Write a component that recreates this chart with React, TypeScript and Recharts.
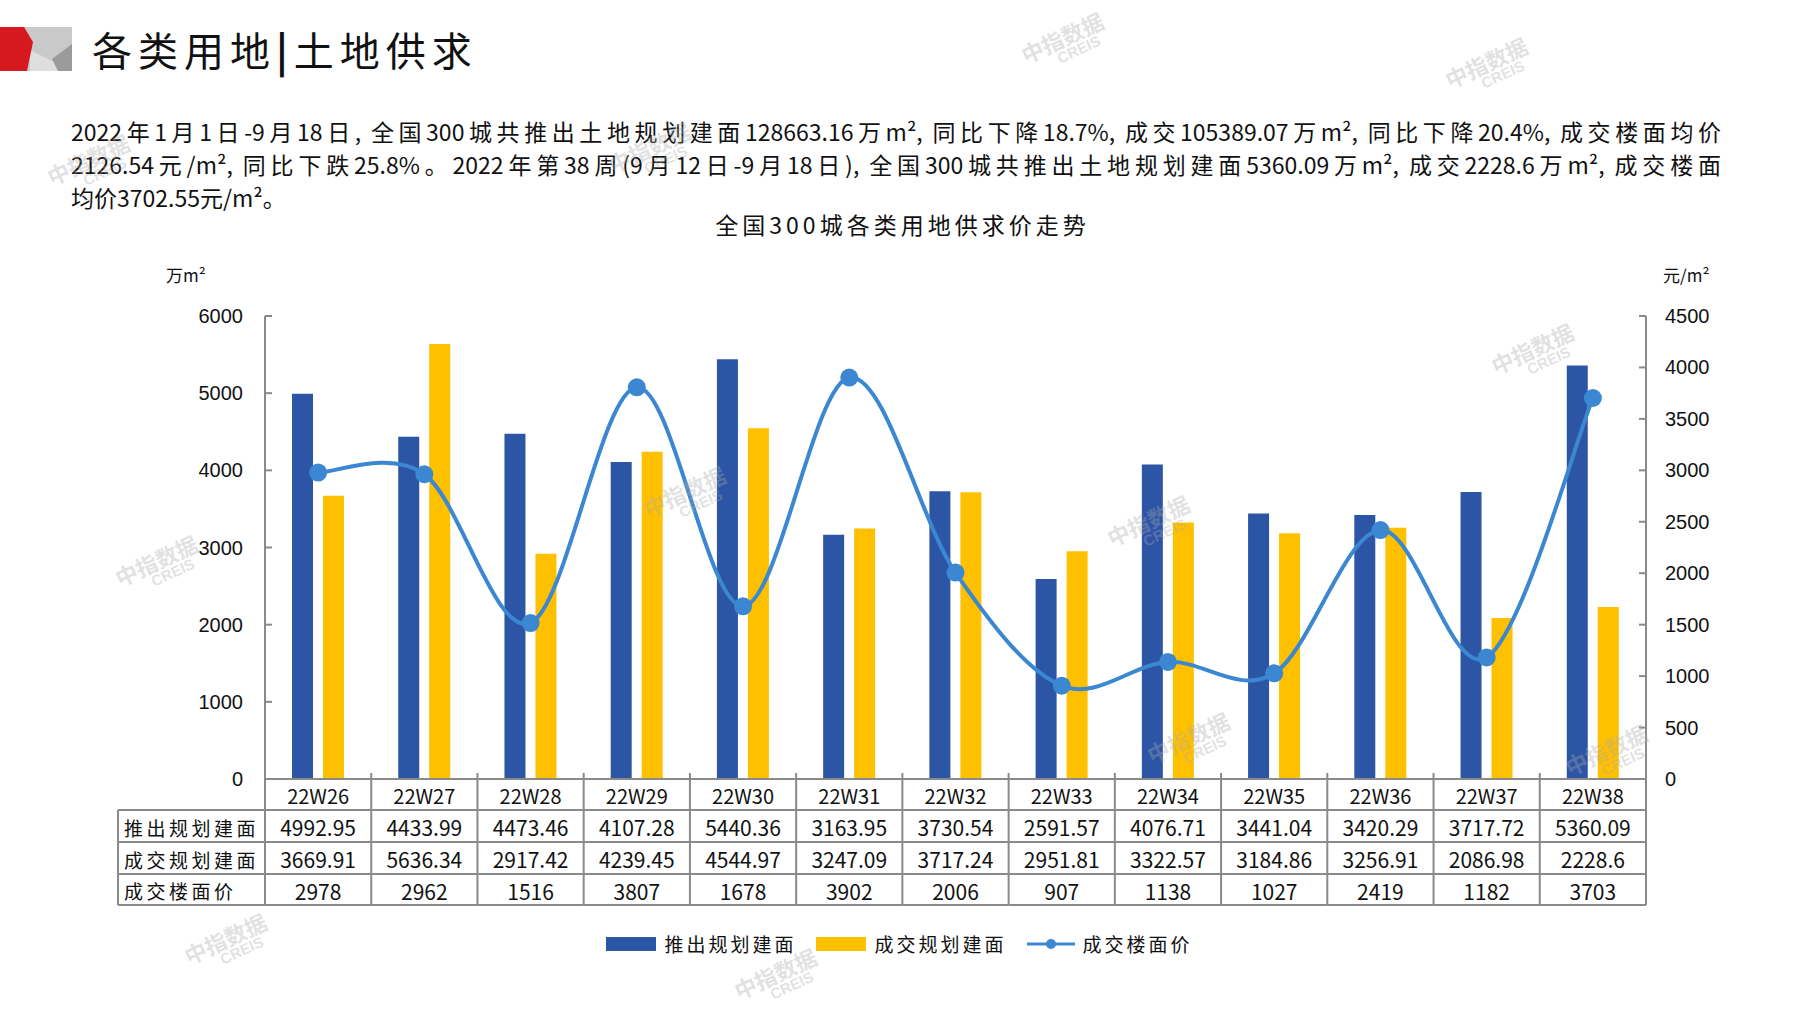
import React from 'react';
import { ComposedChart, Bar, Line, XAxis, YAxis } from 'recharts';

const weeks = ['22W26', '22W27', '22W28', '22W29', '22W30', '22W31', '22W32', '22W33', '22W34', '22W35', '22W36', '22W37', '22W38'];
const launched = [4992.95, 4433.99, 4473.46, 4107.28, 5440.36, 3163.95, 3730.54, 2591.57, 4076.71, 3441.04, 3420.29, 3717.72, 5360.09];
const traded = [3669.91, 5636.34, 2917.42, 4239.45, 4544.97, 3247.09, 3717.24, 2951.81, 3322.57, 3184.86, 3256.91, 2086.98, 2228.6];
const price = [2978, 2962, 1516, 3807, 1678, 3902, 2006, 907, 1138, 1027, 2419, 1182, 3703];
const leftTicks = [0, 1000, 2000, 3000, 4000, 5000, 6000];
const rightTicks = [0, 500, 1000, 1500, 2000, 2500, 3000, 3500, 4000, 4500];
const rowLabels = ['推出规划建面', '成交规划建面', '成交楼面价'];

const data = weeks.map((w, i) => ({ week: w, launched: launched[i], traded: traded[i], price: price[i] }));

const BLUE = '#2d55a6';
const YELLOW = '#ffc000';
const LINE = '#3b87d1';
const GRID = '#8a8a8a';
const CJK = "'Noto Sans CJK SC', sans-serif";
const NUM = "'Liberation Sans Narrow', 'Noto Sans CJK SC', sans-serif";

const W = 1797;
const H = 1010;
const PLOT_L = 265;
const PLOT_R = 1646;
const PLOT_T = 316;
const PLOT_B = 779;
const TABLE_L = 118;
const ROWS = [779, 810, 842, 874, 905];
const AXIS_W = 60;

// Excel-style smoothed line (Catmull-Rom through every point)
const smooth = (ctx: any) => {
  let pts: number[][] = [];
  return {
    areaStart() {},
    areaEnd() {},
    lineStart() {
      pts = [];
    },
    point(x: number, y: number) {
      pts.push([+x, +y]);
    },
    lineEnd() {
      if (!pts.length) return;
      ctx.moveTo(pts[0][0], pts[0][1]);
      for (let i = 0; i < pts.length - 1; i++) {
        const p0 = pts[i - 1] || pts[i];
        const p1 = pts[i];
        const p2 = pts[i + 1];
        const p3 = pts[i + 2] || p2;
        ctx.bezierCurveTo(
          p1[0] + (p2[0] - p0[0]) / 6,
          p1[1] + (p2[1] - p0[1]) / 6,
          p2[0] - (p3[0] - p1[0]) / 6,
          p2[1] - (p3[1] - p1[1]) / 6,
          p2[0],
          p2[1],
        );
      }
    },
  };
};

const LeftTick = ({ x, y, payload }: any) => (
  <g>
    <line x1={x} x2={x + 7} y1={y} y2={y} stroke={GRID} strokeWidth={2} />
    <text x={x - 22} y={y} textAnchor="end" dominantBaseline="central" fontSize={20} fontFamily="'Liberation Sans', Arial" fill="#111">
      {payload.value}
    </text>
  </g>
);

const RightTick = ({ x, y, payload }: any) => (
  <g>
    <line x1={x - 7} x2={x} y1={y} y2={y} stroke={GRID} strokeWidth={2} />
    <text x={x + 19} y={y} textAnchor="start" dominantBaseline="central" fontSize={20} fontFamily="'Liberation Sans', Arial" fill="#111">
      {payload.value}
    </text>
  </g>
);

const TableTick = ({ x, payload }: any) => {
  const i = payload.index;
  const bw = (PLOT_R - PLOT_L) / weeks.length;
  const l = x - bw / 2;
  const r = x + bw / 2;
  const values = [String(launched[i]), String(traded[i]), String(price[i])];
  return (
    <g>
      <line x1={r} x2={r} y1={PLOT_B - 6} y2={ROWS[4]} stroke={GRID} strokeWidth={2} />
      {ROWS.slice(1).map((ry) => (
        <line key={ry} x1={l} x2={r} y1={ry} y2={ry} stroke={GRID} strokeWidth={2} />
      ))}
      <text x={x} y={(ROWS[0] + ROWS[1]) / 2 + 1} textAnchor="middle" dominantBaseline="central" fontSize={20} fontFamily={NUM} fill="#111">
        {payload.value}
      </text>
      {values.map((v, k) => (
        <text key={k} x={x} y={(ROWS[k + 1] + ROWS[k + 2]) / 2 + 1} textAnchor="middle" dominantBaseline="central" fontSize={21} fontFamily={NUM} fill="#111">
          {v}
        </text>
      ))}
      {i === 0 && (
        <g>
          <line x1={l} x2={l} y1={ROWS[0]} y2={ROWS[4]} stroke={GRID} strokeWidth={2} />
          <line x1={TABLE_L} x2={TABLE_L} y1={ROWS[1]} y2={ROWS[4]} stroke={GRID} strokeWidth={2} />
          {ROWS.slice(1).map((ry) => (
            <line key={ry} x1={TABLE_L} x2={l} y1={ry} y2={ry} stroke={GRID} strokeWidth={2} />
          ))}
          {rowLabels.map((t, k) => (
            <text key={t} x={TABLE_L + 6} y={(ROWS[k + 1] + ROWS[k + 2]) / 2 + 1} textAnchor="start" dominantBaseline="central" fontSize={19} fontFamily={CJK} fill="#111" letterSpacing={3.5}>
              {t}
            </text>
          ))}
        </g>
      )}
    </g>
  );
};

const watermarks = [
  [1066, 50], [1490, 75], [92, 172], [160, 573], [688, 504], [1152, 533],
  [1192, 750], [1536, 361], [1610, 762], [229, 951], [779, 986], [653, 160],
];

function Logo() {
  return (
    <svg width={72} height={46} style={{ position: 'absolute', left: 0, top: 26 }}>
      <polygon points="0,1 72,1 72,45 0,45" fill="#c9c9c9" />
      <polygon points="30,24 72,45 30,45" fill="#dedede" />
      <polygon points="52,33 72,18 72,45 58,45" fill="#9b9b9b" />
      <polygon points="0,1 24,1 33,16 27,45 0,45" fill="#d7181f" />
    </svg>
  );
}

function LegendBar() {
  const item = (swatch: React.ReactNode, label: string) => (
    <div style={{ display: 'flex', alignItems: 'center', marginRight: 20 }}>
      {swatch}
      <span style={{ marginLeft: 8, fontSize: 19, fontFamily: CJK, letterSpacing: 3, color: '#111' }}>{label}</span>
    </div>
  );
  return (
    <div style={{ position: 'absolute', left: 0, width: W, top: 930, display: 'flex', justifyContent: 'center', paddingLeft: 22, boxSizing: 'border-box' }}>
      {item(<div style={{ width: 50, height: 14, background: BLUE }} />, '推出规划建面')}
      {item(<div style={{ width: 50, height: 14, background: YELLOW }} />, '成交规划建面')}
      {item(
        <svg width={48} height={14}>
          <line x1={0} x2={48} y1={7} y2={7} stroke={LINE} strokeWidth={3} />
          <circle cx={24} cy={7} r={5} fill={LINE} />
        </svg>,
        '成交楼面价',
      )}
    </div>
  );
}

export default function App() {
  const para = { position: 'absolute' as const, left: 71, width: 1650, fontSize: 23, fontFamily: NUM, color: '#111', whiteSpace: 'nowrap' as const };
  return (
    <div lang="zh" style={{ position: 'absolute', left: 0, top: 0, width: W, height: H, background: '#fff', overflow: 'hidden' }}>
      <Logo />
      <div style={{ position: 'absolute', left: 92, top: 20, fontSize: 40, fontFamily: CJK, color: '#111', letterSpacing: 6 }}>
        各类用地<span style={{ fontWeight: 700 }}>|</span>土地供求
      </div>
      <div style={{ ...para, top: 114, textAlign: 'justify', textAlignLast: 'justify' }}>
        2022年1月1日-9月18日, 全国300城共推出土地规划建面128663.16万m², 同比下降18.7%, 成交105389.07万m², 同比下降20.4%, 成交楼面均价
      </div>
      <div style={{ ...para, top: 147, textAlign: 'justify', textAlignLast: 'justify' }}>
        2126.54元/m², 同比下跌25.8%。2022年第38周(9月12日-9月18日), 全国300城共推出土地规划建面5360.09万m², 成交2228.6万m², 成交楼面
      </div>
      <div style={{ ...para, top: 180 }}>均价3702.55元/m²。</div>
      <div style={{ position: 'absolute', left: 0, width: W, top: 207, textAlign: 'center', fontSize: 23, fontFamily: CJK, color: '#111', letterSpacing: 4, paddingLeft: 4 }}>
        全国300城各类用地供求价走势
      </div>
      <div style={{ position: 'absolute', left: 166, top: 262, fontSize: 17, fontFamily: CJK, color: '#111' }}>万m²</div>
      <div style={{ position: 'absolute', left: 1663, top: 262, fontSize: 17, fontFamily: CJK, color: '#111' }}>元/m²</div>

      <div style={{ position: 'absolute', left: 0, top: 0 }}>
        <ComposedChart
          width={W}
          height={H}
          data={data}
          margin={{ top: PLOT_T, right: W - PLOT_R - AXIS_W, bottom: H - ROWS[4], left: PLOT_L - AXIS_W }}
          barSize={21}
          barGap={10}
        >
          <XAxis
            dataKey="week"
            interval={0}
            height={ROWS[4] - PLOT_B}
            tickSize={0}
            tickMargin={0}
            tickLine={false}
            axisLine={{ stroke: GRID, strokeWidth: 2 }}
            tick={<TableTick />}
          />
          <YAxis
            yAxisId="left"
            orientation="left"
            width={AXIS_W}
            domain={[0, 6000]}
            ticks={leftTicks}
            tickSize={0}
            tickMargin={0}
            tickLine={false}
            axisLine={{ stroke: GRID, strokeWidth: 2 }}
            tick={<LeftTick />}
          />
          <YAxis
            yAxisId="right"
            orientation="right"
            width={AXIS_W}
            domain={[0, 4500]}
            ticks={rightTicks}
            tickSize={0}
            tickMargin={0}
            tickLine={false}
            axisLine={{ stroke: GRID, strokeWidth: 2 }}
            tick={<RightTick />}
          />
          <Bar yAxisId="left" dataKey="launched" name="推出规划建面" fill={BLUE} isAnimationActive={false} />
          <Bar yAxisId="left" dataKey="traded" name="成交规划建面" fill={YELLOW} isAnimationActive={false} />
          <Line
            yAxisId="right"
            dataKey="price"
            name="成交楼面价"
            type={smooth as any}
            stroke={LINE}
            strokeWidth={4}
            dot={{ r: 9, fill: LINE, stroke: LINE, strokeWidth: 0 }}
            activeDot={false}
            isAnimationActive={false}
          />
        </ComposedChart>
      </div>

      <LegendBar />

      {watermarks.map(([x, y], k) => (
        <div
          key={k}
          style={{
            position: 'absolute',
            left: x - 45,
            top: y - 25,
            transform: 'rotate(-25deg)',
            color: 'rgba(170,170,170,0.35)',
            fontFamily: CJK,
            textAlign: 'center',
            lineHeight: 1,
            pointerEvents: 'none',
          }}
        >
          <div style={{ fontSize: 22, fontWeight: 700 }}>中指数据</div>
          <div style={{ fontSize: 15, fontWeight: 700, fontFamily: 'Arial, sans-serif', marginLeft: 20 }}>CREIS</div>
        </div>
      ))}
    </div>
  );
}
